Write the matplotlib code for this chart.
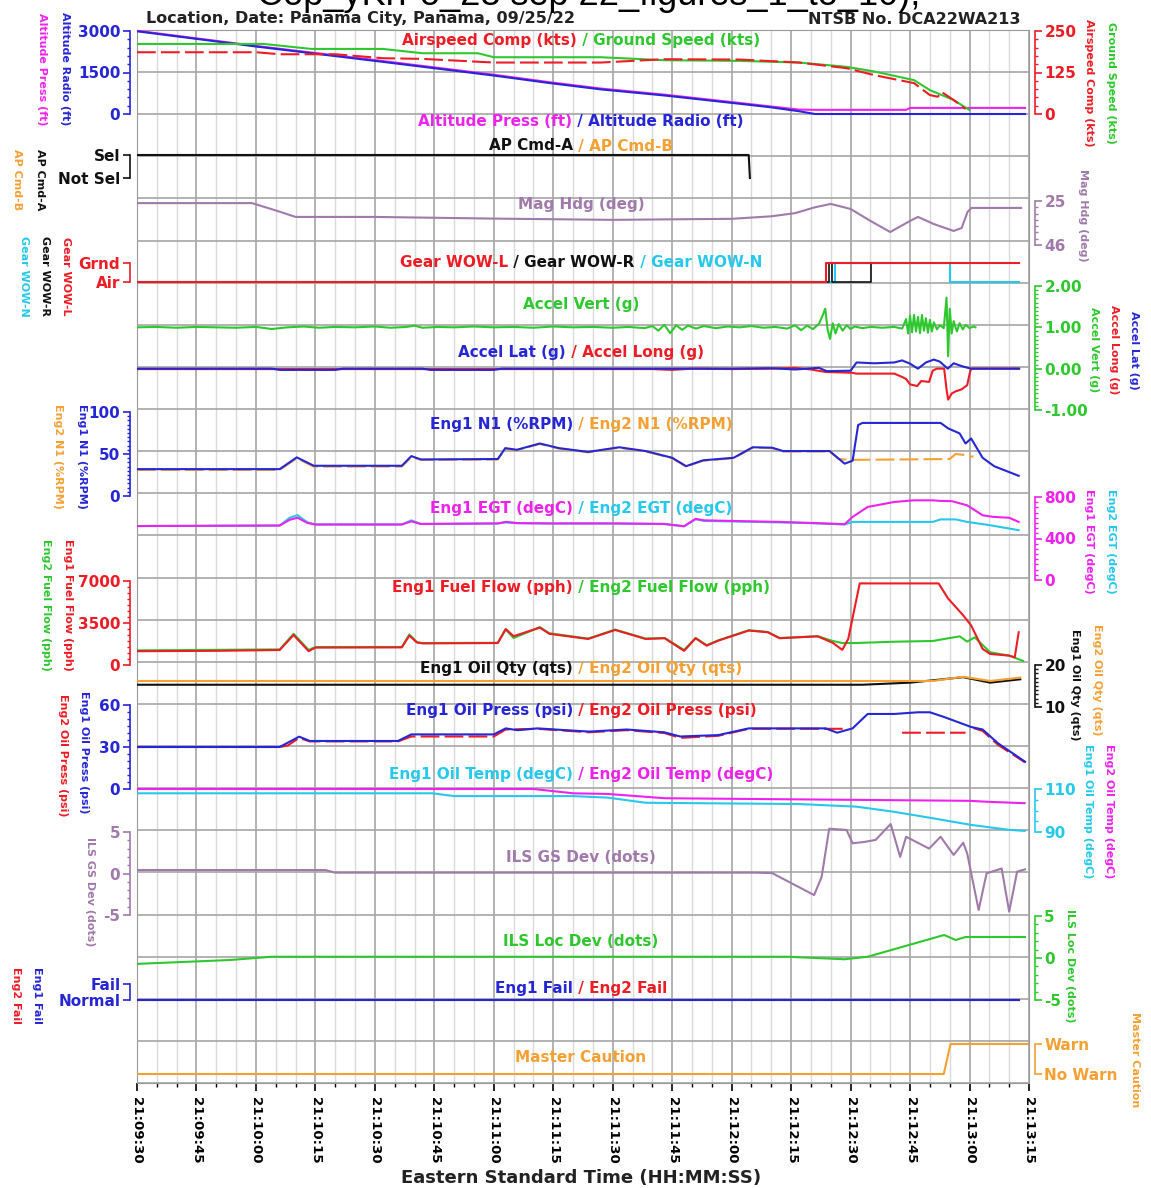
import numpy as np
import matplotlib
matplotlib.use("Agg")
import matplotlib.pyplot as plt
from matplotlib.ticker import FixedLocator, MultipleLocator, FuncFormatter

plt.rcParams['font.family'] = 'DejaVu Sans'
plt.rcParams['font.weight'] = 'bold'

RED = '#ee1c24'
GRN = '#2ec82e'
BLU = '#2626d6'
MAG = '#ee22ee'
CYN = '#26c8ec'
ORG = '#f5a033'
PUR = '#a07aaa'
BLK = '#111111'

# ---- data (seconds after 21:09:30) ----
alt_t = [0, 30, 60, 90, 104, 117, 133, 152, 160, 167, 171, 194, 195, 224]
alt_press = [3010, 2460, 1950, 1420, 1150, 920, 700, 400, 270, 160, 150, 150, 220, 220]
alt_radio = [2990, 2440, 1920, 1390, 1120, 890, 670, 370, 240, 100, 0, 0, 0, 0]

spd_t = [0, 30, 36, 50, 62, 72, 90, 117, 133, 152, 167, 179, 186, 196, 200, 202, 203, 206, 209]
airspeed = [186, 186, 180, 180, 168, 166, 155, 155, 165, 164, 155, 138, 117, 93, 57, 52, 66, 42, 15]
gs_t = [0, 32, 44, 62, 72, 86, 90, 117, 133, 152, 167, 179, 186, 196, 200, 206, 210]
ground_speed = [211, 211, 196, 196, 183, 183, 171, 171, 162, 160, 155, 142, 128, 102, 72, 42, 12]

ap_t = [0, 154.3, 154.6]
ap_cmd_a = [1, 1, 0]

hdg_t = [0, 29, 35, 40, 60, 90, 120, 150, 160, 166, 171, 175, 180, 185, 190, 195, 197,
         201, 206, 208, 209.5, 210.5, 223]
mag_hdg = [26.0, 26.0, 29.5, 32.6, 32.6, 33.4, 34.0, 33.5, 32.3, 30.8, 28.0, 26.4, 28.8,
           34.5, 39.8, 34.5, 32.6, 36.0, 39.3, 37.9, 30.2, 28.3, 28.3]

wow_l_t = [0, 173.8, 222.5]
wow_l = [0, 1, 1]
wow_r_t = [0, 174.5, 175.2, 185.2, 222.5]
wow_r = [0, 1, 0, 1, 1]
wow_n_t = [0, 176.0, 205.0, 222.5]
wow_n = [0, 1, 0, 0]

vert_t = [0, 5, 10, 15, 20, 25, 30, 34, 38, 42, 46, 50, 55, 60, 64, 68, 70, 72, 76, 80,
          85, 90, 95, 100, 105, 110, 115, 120, 124, 128, 130, 131.5, 133, 134.5, 136,
          137.5, 139, 141, 143, 146, 149, 152, 155, 158, 161, 164, 166, 167.5, 169, 170.5,
          172, 173, 173.6, 174.2, 174.8, 175.5, 176.2, 177, 178, 179, 180, 181, 183, 185,
          188, 191, 193, 194, 194.5, 195, 195.5, 196, 196.5, 197, 197.5, 198, 198.5, 199,
          199.5, 200, 200.5, 201, 201.8, 202.5, 203.5, 204.2, 204.6, 205, 205.5, 206,
          206.8, 207.5, 208.3, 209, 210, 211, 211.5]
accel_vert = [1.0, 1.01, 0.99, 1.01, 1.0, 0.99, 1.01, 0.96, 1.0, 1.02, 0.99, 1.01, 1.0,
              1.02, 0.99, 1.01, 1.04, 0.99, 1.01, 1.0, 1.02, 1.0, 1.01, 0.99, 1.02, 1.0,
              1.01, 0.99, 1.01, 0.98, 1.03, 0.92, 1.06, 0.86, 1.05, 0.94, 1.04, 0.97, 1.03,
              0.98, 1.02, 1.0, 1.03, 0.99, 1.01, 0.97, 1.05, 0.93, 1.04, 0.96, 1.08, 1.3,
              1.45, 0.95, 0.72, 1.1, 0.85, 1.08, 0.92, 1.05, 0.96, 1.02, 0.98, 1.01, 0.99,
              1.01, 0.97, 1.2, 0.85, 1.28, 0.88, 1.3, 0.9, 1.25, 0.86, 1.3, 0.92, 1.22,
              0.87, 1.18, 0.9, 1.12, 0.95, 1.05, 0.98, 1.72, 0.3, 1.45, 0.85, 1.15, 0.9,
              1.1, 0.95, 1.06, 0.98, 1.02, 1.0]

lat_t = [0, 34, 36, 50, 52, 72, 74, 90, 92, 150, 160, 166, 172, 174, 180, 181.5, 186, 191,
         193, 195, 197, 199, 201, 202.5, 204.5, 206, 208.4, 210.4, 222.5]
accel_lat = [0, 0, -0.03, -0.03, 0, 0, -0.03, -0.03, 0, 0, 0.01, -0.02, 0.02, -0.06, -0.05,
             0.15, 0.13, 0.15, 0.2, 0.12, 0.0, 0.15, 0.22, 0.17, 0.0, 0.13, 0.05, 0.0, 0.0]
long_t = [0, 130, 135, 140, 150, 160, 166, 170, 173.7, 180.5, 181.4, 191, 193, 194, 195,
          196.8, 197.8, 199.8, 200.7, 201.7, 203.6, 204.2, 204.6, 205.5, 206.5, 208, 209.4,
          210.2, 210.6, 222.5]
accel_long = [-0.01, -0.01, -0.03, 0, -0.01, 0.0, 0.02, -0.02, -0.08, -0.1, -0.12, -0.12,
              -0.2, -0.25, -0.38, -0.42, -0.3, -0.32, -0.05, 0.0, 0.0, -0.5, -0.75, -0.6,
              -0.55, -0.5, -0.4, -0.05, 0.0, 0.0]

n1_t = [0, 36, 40.3, 44.6, 66.8, 69.2, 71.6, 91, 92.9, 95.8, 101.6, 106.4, 113.8, 121.6,
        128.3, 135, 138.5, 142.8, 150.5, 155.3, 160.2, 163, 174.7, 178.5, 180.5, 181.9, 183,
        202.7, 204.6, 207.5, 209, 210.4, 213.3, 216.2, 222.4]
eng1_n1 = [32, 32, 46, 36, 36, 47.5, 43.5, 44, 57, 55, 62.5, 57, 52.5, 58, 53.5, 45.5, 35.5,
           42.5, 45.5, 58, 57.5, 53.5, 53.5, 38.5, 42, 84.5, 87, 87, 80.5, 74.5, 62.5, 68.5,
           45.5, 35.5, 24]
n1b_t = [0, 36, 40.3, 44.6, 66.8, 69.2, 71.6, 91, 92.9, 95.8, 101.6, 106.4, 113.8, 121.6,
         128.3, 135, 138.5, 142.8, 150.5, 155.3, 160.2, 163, 174.7, 177, 180, 205, 206.5,
         208.5, 209.5, 211]
eng2_n1 = [31, 31, 45, 35, 35, 46.5, 43, 43.5, 56, 54.5, 62, 56.5, 52, 57.5, 53, 45, 35,
           42, 45, 57.5, 57, 53, 53, 44, 43, 44, 50, 49, 47, 47]

egt_t = [0, 36, 38.5, 40.5, 43, 45, 66.8, 69.2, 71.6, 91, 93, 96, 104, 120, 133, 138, 140.9,
         143, 162, 170, 178.5, 180.5, 184.3, 191, 195.9, 200.7, 202.7, 205.5, 209.4, 213.3,
         216, 220, 222.4]
eng1_egt = [520, 525, 580, 600, 550, 535, 535, 565, 540, 545, 560, 548, 545, 545, 540, 518,
            590, 575, 560, 550, 538, 608, 704, 752, 768, 768, 762, 760, 720, 624, 608, 600,
            560]
egt2_t = [0, 36, 38.5, 40.5, 43, 45, 66.8, 69.2, 71.6, 91, 93, 96, 104, 120, 133, 138,
          140.9, 143, 162, 170, 178.5, 180.5, 200.7, 202.7, 206.5, 209.4, 215.2, 222.4]
eng2_egt = [520, 525, 600, 625, 555, 535, 535, 575, 540, 545, 555, 548, 545, 545, 540, 518,
            585, 570, 555, 548, 535, 560, 560, 584, 584, 560, 528, 480]

ff1_t = [0, 20, 36, 39.5, 43.3, 45, 66.8, 68.7, 70.6, 72, 91, 93, 95, 101.6, 104, 113.8,
         120.6, 128.3, 133.1, 138, 140.9, 143.7, 146.6, 154.3, 159.1, 162.1, 171.7, 175.5,
         177.9, 179.4, 182.3, 202.2, 204.6, 208.4, 210.4, 213.3, 215.2, 220, 221.4, 222.4]
eng1_ff = [1150, 1180, 1250, 2500, 1150, 1450, 1470, 2450, 1880, 1800, 1830, 3000, 2400,
           3120, 2600, 2170, 2920, 2170, 2230, 1180, 2230, 1610, 2030, 2870, 2730, 2230,
           2390, 1850, 1260, 2170, 6800, 6800, 5540, 4140, 3300, 1340, 920, 780, 640, 2730]
ff2_t = [0, 36, 39.5, 43.3, 45, 66.8, 68.7, 70.6, 72, 91, 93, 95, 101.6, 104, 113.8, 120.6,
         128.3, 133.1, 138, 140.9, 143.7, 146.6, 154.3, 159.1, 162.1, 171.7, 175.5, 177.9,
         181, 191, 200.7, 207.5, 209.4, 211.3, 215.2, 220, 223.5]
eng2_ff = [1220, 1300, 2600, 1250, 1500, 1500, 2550, 1900, 1830, 1850, 2950, 2250, 3150,
           2650, 2200, 2950, 2200, 2250, 1250, 2250, 1650, 2050, 2900, 2750, 2250, 2400,
           2000, 1830, 1830, 1940, 2000, 2390, 1950, 2300, 1060, 780, 340]

oq1_t = [0, 183, 195, 208.4, 215.2, 222.8]
eng1_oil_qty = [15.3, 15.3, 15.8, 17.1, 15.8, 16.6]
oq2_t = [0, 200.7, 208.4, 215.2, 222.8]
eng2_oil_qty = [16.2, 16.2, 17.2, 16.2, 17.0]

op1_t = [0, 36, 40.9, 43.6, 65.8, 69.2, 90, 93, 96, 101, 114, 123.5, 133, 137, 146.6, 154.3,
         173.7, 176.6, 180.5, 184.3, 191, 197, 200, 203.6, 210.4, 213.3, 217.2, 224]
eng1_oil_press = [30, 30, 37.4, 34.3, 34.3, 39, 39, 43.3, 42, 43.3, 41, 42.5, 40.5, 37.5,
                  38.5, 43.3, 43.3, 40.2, 43.3, 53.6, 53.6, 54.8, 54.8, 51.4, 44.3, 42.5,
                  32.6, 19.5]
op2_t = [0, 36, 38, 40.9, 43.6, 65.8, 69.2, 90, 93, 101, 114, 123.5, 133, 137, 146.6, 154.3,
         178, 178.5, 193, 209, 209.5, 211, 213.3, 217.2, 224]
eng2_oil_press = [30, 30, 31, 36.5, 34, 34, 37.5, 37.5, 42.5, 43, 40.5, 42, 40, 36.5, 38,
                  43, 43, np.nan, 40.2, 40.2, np.nan, 43.5, 41.5, 31.5, 19]

ot1_t = [0, 74.5, 80, 110, 118.7, 128.3, 167, 181.4, 191, 200.7, 210.4, 220, 223.9]
eng1_oil_temp = [108, 108, 106.7, 106.7, 106, 103.6, 103, 101.8, 99.4, 96.4, 93.3, 91, 90.5]
ot2_t = [0, 100, 110, 118.7, 133.2, 210, 215.2, 223.9]
eng2_oil_temp = [110, 110, 108, 107.7, 105.7, 104.5, 104, 103.4]

gs_dev_t = [0, 47.5, 50, 104, 156, 160.2, 170.8, 172.7, 174.6, 179, 180.5, 183.4, 186.3,
            190.1, 192.5, 194, 199.8, 202.7, 206, 208.4, 209.4, 212.3, 214.3, 218.1, 220,
            222, 224]
ils_gs_dev = [0.42, 0.42, 0.1, 0.1, 0.1, 0.05, -2.6, -0.4, 5.4, 5.24, 3.64, 3.8, 4.04, 5.96,
              2.0, 4.43, 3.0, 4.43, 2.23, 3.71, 2.43, -4.4, 0.02, 0.6, -4.6, 0.22, 0.5]

loc_t = [0, 23.4, 34, 164, 178.5, 184.3, 203.6, 206.5, 209, 224]
ils_loc_dev = [-0.7, -0.24, 0.15, 0.15, -0.15, 0.15, 2.74, 2.14, 2.5, 2.5]

fail_t = [0, 222.5]
eng1_fail = [0, 0]
eng2_fail = [0, 0]

mc_t = [0, 203.5, 205.2, 225]
master_caution = [0, 0, 1, 1]

# ---- layout ----
W, H = 1151, 1188
PX0, PX1, PY0, PY1 = 137, 1029, 30, 1083
rect = [PX0 / W, 1 - PY1 / H, (PX1 - PX0) / W, (PY1 - PY0) / H]


def fx(x):
    return x / W


def fy(y):
    return 1 - y / H


def clock(t, pos=None):
    s = 9 * 60 + 30 + int(round(t))
    return "21:%02d:%02d" % (s // 60, s % 60)


fig = plt.figure(figsize=(W / 100, H / 100), dpi=100)
base = fig.add_axes(rect)
base.set_xlim(0, 225)
base.set_ylim(25, 0)
base.xaxis.set_major_locator(MultipleLocator(15))
base.xaxis.set_minor_locator(MultipleLocator(5))
base.xaxis.set_major_formatter(FuncFormatter(clock))
base.set_yticks(np.arange(0, 26))
base.tick_params(axis='y', left=False, labelleft=False)
base.grid(True, which='major', axis='both', color='#a6a6a6', lw=1.2)
base.grid(True, which='minor', axis='x', color='#dadada', lw=1.0)
base.set_axisbelow(True)
for s in base.spines.values():
    s.set_color('#999999')
base.tick_params(axis='x', which='major', direction='out', length=6, width=1.2,
                 color='black', labelsize=9.6, labelrotation=270, pad=4)
base.tick_params(axis='x', which='minor', direction='out', length=3, width=1, color='black')


def pane(v1, y1, v2, y2, side, ticks, labels, color, minor=None):
    ax = fig.add_axes(rect)
    ax.patch.set_visible(False)
    ax.set_xlim(0, 225)
    k = (v2 - v1) / (y2 - y1)
    ax.set_ylim(v1 + (PY1 - y1) * k, v1 + (PY0 - y1) * k)
    for s in ax.spines.values():
        s.set_visible(False)
    ax.tick_params(axis='x', which='both', bottom=False, labelbottom=False)
    sp = ax.spines[side]
    sp.set_visible(True)
    sp.set_bounds(min(ticks), max(ticks))
    sp.set_position(('outward', 5 if side == 'left' else 4))
    sp.set_color(color)
    sp.set_linewidth(1.2)
    ax.yaxis.set_ticks_position(side)
    ax.set_yticks(ticks, labels)
    if minor is not None:
        ax.yaxis.set_minor_locator(FixedLocator(minor))
    ax.tick_params(axis='y', which='major', direction='out', length=5, width=1.2,
                   colors=color, labelsize=11, pad=2)
    ax.tick_params(axis='y', which='minor', direction='out', length=2, width=1, colors=color)
    return ax


LW = 1.5
DASH = (0, (9, 2.5))

# altitude / airspeed
ax = pane(3000, 31, 0, 114, 'left', [0, 1500, 3000], ['0', '1500', '3000'], BLU,
          np.arange(0, 3001, 300))
ax.plot(alt_t, alt_press, color=MAG, lw=LW)
ax.plot(alt_t, alt_radio, color=BLU, lw=LW)
ax = pane(250, 31, 0, 114, 'right', [0, 125, 250], ['0', '125', '250'], RED,
          np.arange(0, 251, 25))
ax.plot(gs_t, ground_speed, color=GRN, lw=LW)
ax.plot(spd_t, airspeed, color=RED, lw=LW, ls=DASH)

# autopilot
ax = pane(1, 155, 0, 178, 'left', [0, 1], ['Not Sel', 'Sel'], BLK)
ax.plot(ap_t, ap_cmd_a, color=BLK, lw=LW)

# heading
ax = pane(25, 201, 46, 245, 'right', [25, 46], ['25', '46'], PUR, np.arange(25, 47, 3))
ax.plot(hdg_t, mag_hdg, color=PUR, lw=LW)

# gear
ax = pane(1, 263, 0, 282, 'left', [0, 1], ['Air', 'Grnd'], RED)
ax.plot(wow_n_t, wow_n, color=CYN, lw=LW, drawstyle='steps-post')
ax.plot(wow_r_t, wow_r, color=BLK, lw=1.2, drawstyle='steps-post')
ax.plot(wow_l_t, wow_l, color=RED, lw=LW, drawstyle='steps-post')

# accelerations
ax = pane(2, 286, -1, 410, 'right', [-1, 0, 1, 2], ['-1.00', '0.00', '1.00', '2.00'], GRN,
          np.arange(-1, 2.01, 0.1))
ax.plot(vert_t, accel_vert, color=GRN, lw=LW)
ax.plot(long_t, accel_long, color=RED, lw=LW)
ax.plot(lat_t, accel_lat, color=BLU, lw=LW)

# N1
ax = pane(100, 412, 0, 496, 'left', [0, 50, 100], ['0', '50', '100'], BLU, np.arange(0, 101, 5))
ax.plot(n1b_t, eng2_n1, color=ORG, lw=LW, ls=DASH)
ax.plot(n1_t, eng1_n1, color=BLU, lw=LW)

# EGT
ax = pane(800, 497, 0, 580, 'right', [0, 400, 800], ['0', '400', '800'], MAG,
          np.arange(0, 801, 50))
ax.plot(egt2_t, eng2_egt, color=CYN, lw=LW)
ax.plot(egt_t, eng1_egt, color=MAG, lw=LW)

# fuel flow
ax = pane(7000, 581, 0, 665, 'left', [0, 3500, 7000], ['0', '3500', '7000'], RED,
          np.arange(0, 7001, 500))
ax.plot(ff2_t, eng2_ff, color=GRN, lw=LW)
ax.plot(ff1_t, eng1_ff, color=RED, lw=LW)

# oil quantity
ax = pane(20, 665, 10, 707, 'right', [10, 20], ['10', '20'], BLK, np.arange(10, 21, 1))
ax.plot(oq1_t, eng1_oil_qty, color=BLK, lw=LW)
ax.plot(oq2_t, eng2_oil_qty, color=ORG, lw=LW)

# oil pressure
ax = pane(60, 705, 0, 789, 'left', [0, 30, 60], ['0', '30', '60'], BLU, np.arange(0, 61, 5))
ax.plot(op2_t, eng2_oil_press, color=RED, lw=LW, ls=DASH)
ax.plot(op1_t, eng1_oil_press, color=BLU, lw=LW)

# oil temperature
ax = pane(110, 789, 90, 832, 'right', [90, 110], ['90', '110'], CYN, np.arange(90, 111, 5))
ax.plot(ot2_t, eng2_oil_temp, color=MAG, lw=LW)
ax.plot(ot1_t, eng1_oil_temp, color=CYN, lw=LW)

# ILS
ax = pane(5, 832, -5, 915, 'left', [-5, 0, 5], ['-5', '0', '5'], PUR, np.arange(-5, 6, 1))
ax.plot(gs_dev_t, ils_gs_dev, color=PUR, lw=LW)
ax = pane(5, 916, -5, 1000, 'right', [-5, 0, 5], ['-5', '0', '5'], GRN, np.arange(-5, 6, 1))
ax.plot(loc_t, ils_loc_dev, color=GRN, lw=LW)

# engine fail
ax = pane(1, 984, 0, 1000, 'left', [0, 1], ['Normal', 'Fail'], BLU)
ax.plot(fail_t, eng2_fail, color=RED, lw=LW)
ax.plot(fail_t, eng1_fail, color=BLU, lw=LW)

# master caution
ax = pane(1, 1044, 0, 1074, 'right', [0, 1], ['No Warn', 'Warn'], ORG)
ax.plot(mc_t, master_caution, color=ORG, lw=LW)

# ---- texts ----
renderer = fig.canvas.get_renderer()


def strip_title(y, parts, fs=11):
    objs = [fig.text(0, fy(y), s, color=c, fontsize=fs, va='center') for s, c in parts]
    ws = [o.get_window_extent(renderer).width for o in objs]
    x = 581 - sum(ws) / 2
    for o, w in zip(objs, ws):
        o.set_x(fx(x))
        x += w


strip_title(41, [('Airspeed Comp (kts)', RED), (' / Ground Speed (kts)', GRN)])
strip_title(121, [('Altitude Press (ft)', MAG), (' / Altitude Radio (ft)', BLU)])
strip_title(146, [('AP Cmd-A', BLK), (' / AP Cmd-B', ORG)])
strip_title(205, [('Mag Hdg (deg)', PUR)])
strip_title(262, [('Gear WOW-L', RED), (' / Gear WOW-R', BLK), (' / Gear WOW-N', CYN)])
strip_title(305, [('Accel Vert (g)', GRN)])
strip_title(353, [('Accel Lat (g)', BLU), (' / Accel Long (g)', RED)])
strip_title(425, [('Eng1 N1 (%RPM)', BLU), (' / Eng2 N1 (%RPM)', ORG)])
strip_title(509, [('Eng1 EGT (degC)', MAG), (' / Eng2 EGT (degC)', CYN)])
strip_title(587, [('Eng1 Fuel Flow (pph)', RED), (' / Eng2 Fuel Flow (pph)', GRN)])
strip_title(669, [('Eng1 Oil Qty (qts)', BLK), (' / Eng2 Oil Qty (qts)', ORG)])
strip_title(710, [('Eng1 Oil Press (psi)', BLU), (' / Eng2 Oil Press (psi)', RED)])
strip_title(775, [('Eng1 Oil Temp (degC)', CYN), (' / Eng2 Oil Temp (degC)', MAG)])
strip_title(858, [('ILS GS Dev (dots)', PUR)])
strip_title(942, [('ILS Loc Dev (dots)', GRN)])
strip_title(989, [('Eng1 Fail', BLU), (' / Eng2 Fail', RED)])
strip_title(1057, [('Master Caution', ORG)])

side_labels = [
    (42, 69, 'Altitude Press (ft)', MAG), (65, 69, 'Altitude Radio (ft)', BLU),
    (40, 180, 'AP Cmd-A', BLK), (17, 180, 'AP Cmd-B', ORG),
    (66, 276, 'Gear WOW-L', RED), (45, 276, 'Gear WOW-R', BLK), (24, 276, 'Gear WOW-N', CYN),
    (82, 456, 'Eng1 N1 (%RPM)', BLU), (58, 456, 'Eng2 N1 (%RPM)', ORG),
    (68, 605, 'Eng1 Fuel Flow (pph)', RED), (46, 605, 'Eng2 Fuel Flow (pph)', GRN),
    (84, 752, 'Eng1 Oil Press (psi)', BLU), (63, 755, 'Eng2 Oil Press (psi)', RED),
    (90, 892, 'ILS GS Dev (dots)', PUR),
    (37, 995, 'Eng1 Fail', BLU), (16, 995, 'Eng2 Fail', RED),
    (1089, 83, 'Airspeed Comp (kts)', RED), (1111, 83, 'Ground Speed (kts)', GRN),
    (1083, 215, 'Mag Hdg (deg)', PUR),
    (1094, 350, 'Accel Vert (g)', GRN), (1114, 350, 'Accel Long (g)', RED),
    (1134, 350, 'Accel Lat (g)', BLU),
    (1089, 541, 'Eng1 EGT (degC)', MAG), (1111, 541, 'Eng2 EGT (degC)', CYN),
    (1075, 685, 'Eng1 Oil Qty (qts)', BLK), (1097, 680, 'Eng2 Oil Qty (qts)', ORG),
    (1088, 811, 'Eng1 Oil Temp (degC)', CYN), (1109, 811, 'Eng2 Oil Temp (degC)', MAG),
    (1070, 966, 'ILS Loc Dev (dots)', GRN),
    (1135, 1060, 'Master Caution', ORG),
]
for x, y, s, c in side_labels:
    fig.text(fx(x), fy(y), s, color=c, fontsize=8, rotation=270, ha='center', va='center')

fig.text(fx(581), fy(1178), 'Eastern Standard Time (HH:MM:SS)', fontsize=13,
         color='#222222', ha='center', va='center')
fig.text(fx(146), fy(19), 'Location, Date: Panama City, Panama, 09/25/22', fontsize=11.5,
         color='#222222', ha='left', va='center')
fig.text(fx(1020), fy(19), 'NTSB No. DCA22WA213', fontsize=11.5, color='#222222',
         ha='right', va='center')
fig.text(fx(257), fy(5), 'Cop_yKrFo_28 sep 22_figures_1_to_10);', fontsize=26,
         family='Liberation Sans', weight='normal', color='black', ha='left', va='baseline')

fig.savefig('out.png', dpi=100, facecolor='white')
